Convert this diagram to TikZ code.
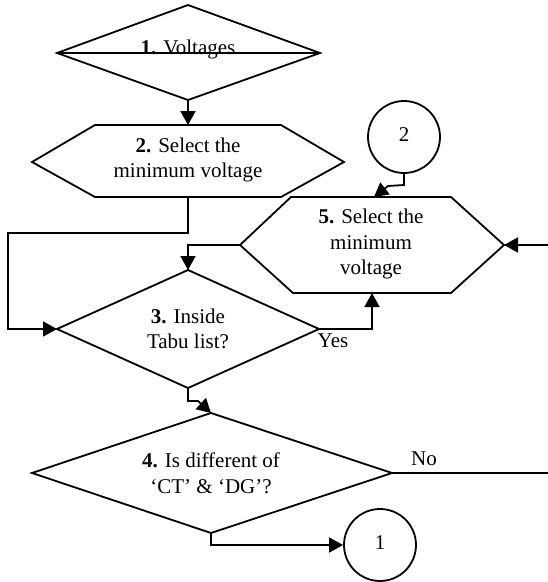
\documentclass[tikz,border=0pt]{standalone}
\usepackage{fontspec}
\setmainfont{Liberation Serif}
\usetikzlibrary{arrows.meta}
\begin{document}
\begin{tikzpicture}[x=1pt,y=-1pt,
  shapeline/.style={draw=black,line width=1.8pt,line join=miter},
  conn/.style={draw=black,line width=1.8pt},
  arr/.style={conn,-{Triangle[length=14pt,width=15pt]}},
  txt/.style={font=\fontsize{21}{25.5}\selectfont,align=center,inner sep=0pt},
  circ/.style={draw=black,line width=1.8pt,circle,minimum size=72pt,inner sep=0pt,font=\fontsize{21}{25}\selectfont}]
\useasboundingbox (0,0) rectangle (548,582);
% Diamond 1
\coordinate (d1t) at (188,5); \coordinate (d1l) at (57,53);
\coordinate (d1r) at (320,53); \coordinate (d1b) at (188,100);
\draw[shapeline] (d1t) -- (d1r) -- (d1b) -- (d1l) -- cycle;
\draw[shapeline] (d1l) -- (d1r);
\node[txt,anchor=base] (t1) at (188,54) {\textbf{1.} Voltages};
% Hexagon 2
\coordinate (h2t) at (188,125); \coordinate (h2b) at (188,197);
\draw[shapeline] (95,125) -- (281,125) -- (344,162) -- (281,197) -- (95,197) -- (32,162) -- cycle;
\node[txt] (t2) at (188,160) {\textbf{2.} Select the\\minimum voltage};
% Circle 2
\node[circ] (c2) at (404,137) {\raisebox{4pt}{2}};
% Hexagon 5
\coordinate (h5t) at (374,197); \coordinate (h5b) at (372,293);
\coordinate (h5l) at (240,245); \coordinate (h5r) at (504,245);
\draw[shapeline] (291,197) -- (451,197) -- (h5r) -- (451,293) -- (293,293) -- (h5l) -- cycle;
\node[txt] (t5) at (371,244) {\textbf{5.} Select the\\minimum\\voltage};
% Diamond 3
\coordinate (d3t) at (188,270); \coordinate (d3l) at (57,329);
\coordinate (d3r) at (319,329); \coordinate (d3b) at (188,388);
\draw[shapeline] (d3t) -- (d3r) -- (d3b) -- (d3l) -- cycle;
\node[txt] (t3) at (188,329) {\textbf{3.} Inside\\Tabu list?};
% Diamond 4
\coordinate (d4t) at (211,413); \coordinate (d4l) at (32,473);
\coordinate (d4r) at (392,473); \coordinate (d4b) at (211,533);
\draw[shapeline] (d4t) -- (d4r) -- (d4b) -- (d4l) -- cycle;
\node[txt] (t4) at (211,473) {\textbf{4.} Is different of\\‘CT’ \& ‘DG’?};
% Circle 1
\node[circ] (c1) at (380,545) {\raisebox{4pt}{1}};
% free ends
\coordinate (inR) at (548,245);
\coordinate (outR) at (548,473);
% connectors
\draw[arr] (d1b) -- (h2t);
\draw[arr] (h2b) -- (188,233) -- (8,233) -- (8,329) -- (d3l);
\draw[arr] (c2.south) -- (404,185) -- (388,186) -- (h5t);
\draw[arr] (inR) -- (h5r);
\draw[arr] (h5l) -- (188,245) -- (d3t);
\draw[arr] (d3r) -- (372,329) -- (h5b);
\node[txt] (yes) at (333,341) {Yes};
\draw[arr] (d3b) -- (188,401) -- (198,401) -- (d4t);
\draw[conn] (d4r) -- (outR);
\node[txt] (no) at (424,459) {No};
\draw[arr] (d4b) -- (211,545) -- (c1.west);
\end{tikzpicture}
\end{document}
